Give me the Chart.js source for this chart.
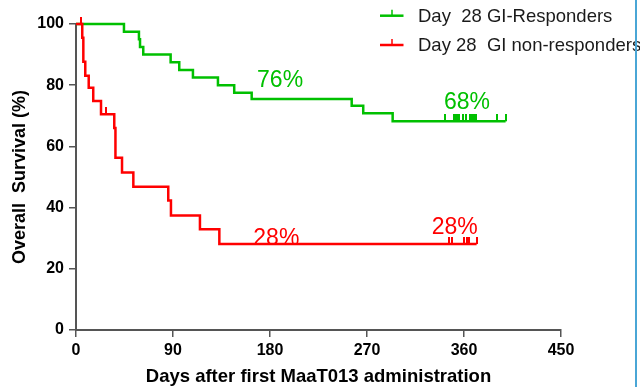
<!DOCTYPE html>
<html><head><meta charset="utf-8">
<script src="https://cdn.jsdelivr.net/npm/chart.js@4/dist/chart.umd.min.js"></script>
<style>
html,body{margin:0;padding:0;background:#fff;}
#wrap{position:relative;width:640px;height:387px;overflow:hidden;}
#edge{position:absolute;left:635px;top:0;width:2px;height:387px;background:#4aa6d6;}
</style>
</head><body>
<div id="wrap"><canvas id="c" width="640" height="387"></canvas><div id="edge"></div></div>
<script>
// ---- data ----
const seriesNames = ['Day  28 GI-Responders', 'Day 28  GI non-responders'];
const seriesColors = ['#00c000', '#ff0000'];

const respDays = [0, 44.5, 58.4, 59.4, 62.4, 87.8, 95.8, 108.5, 131.7, 146.8, 163, 255.8, 266.5, 293.8, 398.6];
const respSurv = [100, 97.5, 95, 92.5, 90, 87.5, 85, 82.5, 80, 77.5, 75.5, 73.3, 70.8, 68.2, 68.2];
const respCensorDays = [342.3, 350.6, 352.2, 353.4, 355.3, 359, 361.8, 365.5, 367.3, 369.2, 371, 390.5, 398.6];
const respCensorSurv = [68.2, 68.2, 68.2, 68.2, 68.2, 68.2, 68.2, 68.2, 68.2, 68.2, 68.2, 68.2, 68.2];

const nonDays = [0, 5.8, 6.8, 8.6, 11.8, 16, 23.2, 35.5, 36.6, 42.7, 53.2, 85.6, 88.1, 115, 133, 371.7];
const nonSurv = [100, 95.5, 87.7, 83.1, 79.2, 74.8, 70.5, 66, 56.3, 51.5, 46.8, 42.3, 37.4, 32.9, 28.1, 28.1];
const nonCensorDays = [4.6, 28, 346, 349.1, 360.3, 363, 364.9, 371.7];
const nonCensorSurv = [100, 70.5, 28.1, 28.1, 28.1, 28.1, 28.1, 28.1];

const xTicks = [0, 90, 180, 270, 360, 450];
const yTicks = [0, 20, 40, 60, 80, 100];

const pctLabels = [
  {text: '76%', day: 168, value: 79.5, series: 0},
  {text: '68%', day: 341.4, value: 72.1, series: 0},
  {text: '28%', day: 164.5, value: 27.8, series: 1},
  {text: '28%', day: 330, value: 31.4, series: 1}
];

// ---- helpers ----
const toXY = (xs, ys) => xs.map((x, i) => ({x: x, y: ys[i]}));
function tickImage(color) {
  const cv = document.createElement('canvas');
  cv.width = 2; cv.height = 14;
  const g = cv.getContext('2d');
  g.fillStyle = color;
  g.fillRect(0, 0, 2, 7);
  return cv;
}

const FONT = "'Liberation Sans', Arial, Helvetica, sans-serif";
Chart.defaults.font.family = FONT;

const overlay = {
  id: 'overlay',
  afterDatasetsDraw(chart) {
    const ctx = chart.ctx, xs = chart.scales.x, ys = chart.scales.y;
    ctx.save();
    ctx.font = '23px ' + FONT;
    ctx.textAlign = 'left';
    ctx.textBaseline = 'alphabetic';
    pctLabels.forEach(l => {
      ctx.fillStyle = seriesColors[l.series];
      ctx.fillText(l.text, xs.getPixelForValue(l.day), ys.getPixelForValue(l.value));
    });
    // legend
    const legY = [15.7, 45];
    ctx.font = '18.5px ' + FONT;
    ctx.textBaseline = 'middle';
    seriesNames.forEach((name, i) => {
      const y = legY[i];
      ctx.strokeStyle = seriesColors[i];
      ctx.lineWidth = 2.5;
      ctx.beginPath(); ctx.moveTo(380, y); ctx.lineTo(403.5, y); ctx.stroke();
      ctx.lineWidth = 1.5;
      ctx.beginPath(); ctx.moveTo(392, y); ctx.lineTo(392, y - 6); ctx.stroke();
      ctx.fillStyle = '#1a1a1a';
      ctx.fillText(name, 418, y + 1);
    });
    ctx.restore();
  }
};

new Chart(document.getElementById('c'), {
  type: 'line',
  data: {
    datasets: [
      {label: seriesNames[0], data: toXY(respDays, respSurv), borderColor: seriesColors[0], borderWidth: 2.5,
       stepped: 'before', pointRadius: 0, fill: false, clip: false, order: 2},
      {label: seriesNames[1], data: toXY(nonDays, nonSurv), borderColor: seriesColors[1], borderWidth: 2.5,
       stepped: 'before', pointRadius: 0, fill: false, clip: false, order: 1},
      {type: 'scatter', label: 'c0', data: toXY(respCensorDays, respCensorSurv), pointStyle: tickImage(seriesColors[0]),
       pointRadius: 7, showLine: false, clip: false},
      {type: 'scatter', label: 'c1', data: toXY(nonCensorDays, nonCensorSurv), pointStyle: tickImage(seriesColors[1]),
       pointRadius: 7, showLine: false, clip: false}
    ]
  },
  options: {
    responsive: false,
    devicePixelRatio: 1,
    animation: false,
    layout: {padding: {left: 0, right: 79, top: 24, bottom: 0}},
    plugins: {legend: {display: false}, tooltip: {enabled: false}},
    scales: {
      x: {
        type: 'linear', min: 0, max: 450,
        afterBuildTicks: s => { s.ticks = xTicks.map(v => ({value: v})); },
        afterFit: s => { s.height = 57; },
        grid: {display: true, drawOnChartArea: false, drawTicks: true, tickLength: 7, color: '#555', lineWidth: 1.5},
        border: {display: true, color: '#555', width: 2},
        ticks: {color: '#000', font: {size: 16, weight: 'bold'}, padding: 4, maxRotation: 0},
        title: {display: true, text: 'Days after first MaaT013 administration', color: '#000',
                font: {size: 18.5, weight: 'bold'}, padding: {top: 0, bottom: -1.5}}
      },
      y: {
        type: 'linear', min: 0, max: 100,
        afterBuildTicks: s => { s.ticks = yTicks.map(v => ({value: v})); },
        afterFit: s => { s.width = 76; },
        grid: {display: true, drawOnChartArea: false, drawTicks: true, tickLength: 7, color: '#555', lineWidth: 1.5},
        border: {display: true, color: '#555', width: 2},
        ticks: {color: '#000', font: {size: 16, weight: 'bold'}, padding: 5},
        title: {display: true, text: 'Overall  Survival (%)', color: '#000',
                font: {size: 18, weight: 'bold'}, padding: {top: 9.5, bottom: 0}}
      }
    }
  },
  plugins: [overlay]
});
</script>
</body></html>
